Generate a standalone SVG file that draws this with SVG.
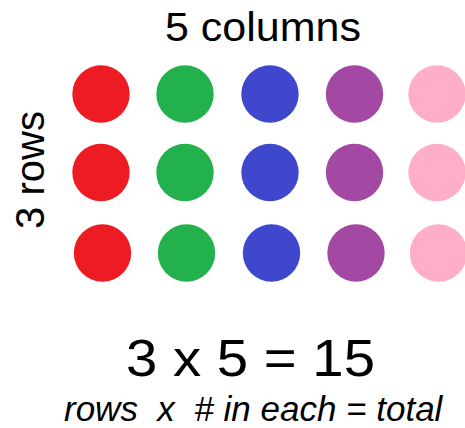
<svg xmlns="http://www.w3.org/2000/svg" width="465" height="428" viewBox="0 0 465 428">
<style>
.t{font-family:"Liberation Sans",Arial,sans-serif;fill:#000}
.red{fill:#ED1C24}.green{fill:#22B14C}.blue{fill:#3F48CC}.purple{fill:#A349A4}.pink{fill:#FFAEC9}
</style>
<rect width="465" height="428" fill="#fff"/>
<g id="labels">
<text class="t" x="165" y="40.5" font-size="40.5" textLength="196" lengthAdjust="spacingAndGlyphs">5 columns</text>
<text class="t" transform="translate(43.5,170) rotate(-90)" font-size="40" text-anchor="middle">3 rows</text>
<text class="t" x="126" y="376" font-size="52" textLength="249" lengthAdjust="spacingAndGlyphs">3 x 5 = 15</text>
<text class="t" x="64" y="421" font-size="35" font-style="italic" xml:space="preserve">rows  x  # in each = total</text>
</g>
<g id="row1">
<circle class="red" cx="101" cy="94" r="28.7"/>
<circle class="green" cx="185" cy="94" r="28.7"/>
<circle class="blue" cx="270" cy="94" r="28.7"/>
<circle class="purple" cx="354.5" cy="94" r="28.7"/>
<circle class="pink" cx="437" cy="94" r="28.7"/>
</g>
<g id="row2">
<circle class="red" cx="101" cy="172.5" r="28.7"/>
<circle class="green" cx="185" cy="172.5" r="28.7"/>
<circle class="blue" cx="270" cy="172.5" r="28.7"/>
<circle class="purple" cx="354.5" cy="172.5" r="28.7"/>
<circle class="pink" cx="437" cy="172.5" r="28.7"/>
</g>
<g id="row3">
<circle class="red" cx="102.5" cy="253" r="28.7"/>
<circle class="green" cx="186.5" cy="253" r="28.7"/>
<circle class="blue" cx="271.5" cy="253" r="28.7"/>
<circle class="purple" cx="356" cy="253" r="28.7"/>
<circle class="pink" cx="438.5" cy="253" r="28.7"/>
</g>
</svg>
